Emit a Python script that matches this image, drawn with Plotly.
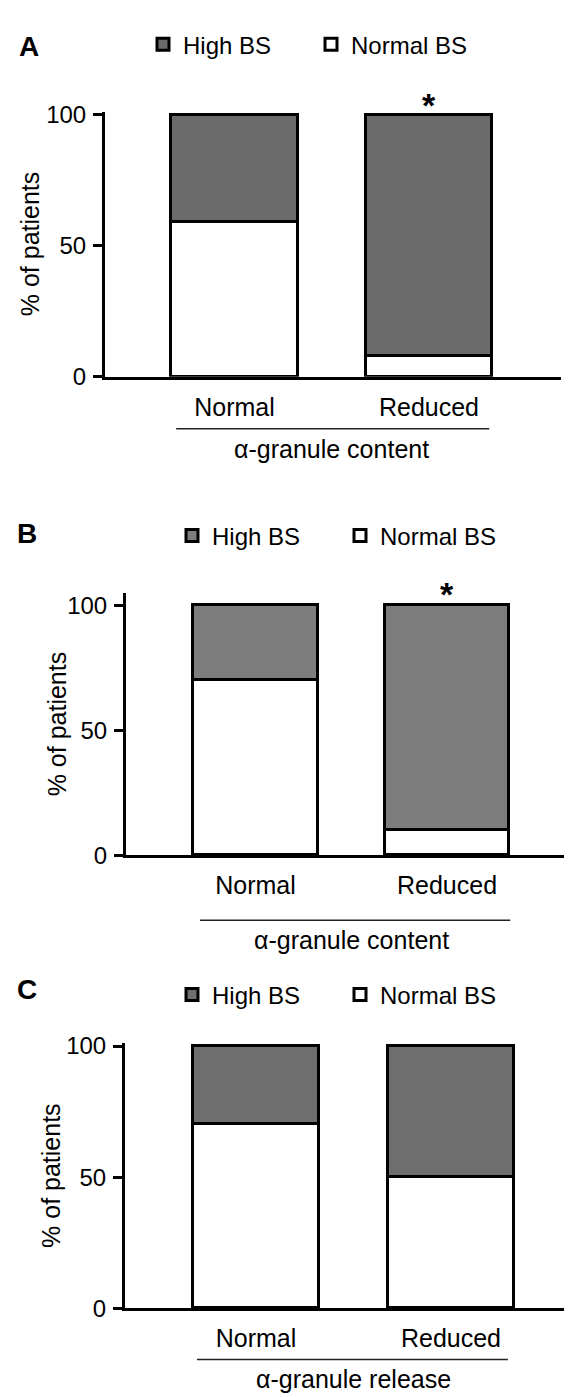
import plotly.graph_objects as go

W, H = 572, 1397
FONT = "Liberation Sans, Arial, Helvetica, sans-serif"

# ---------------- data ----------------
categories = ["Normal", "Reduced"]
series_names = ["High BS", "Normal BS"]
panel_letters = ["A", "B", "C"]
group_titles = ["α-granule content", "α-granule content", "α-granule release"]
y_title = "% of patients"
y_ticks = [0, 50, 100]

normal_bs_A = [59, 8]
high_bs_A = [41, 92]
normal_bs_B = [70, 10]
high_bs_B = [30, 90]
normal_bs_C = [70, 50]
high_bs_C = [30, 50]

signif_A = ["", "*"]
signif_B = ["", "*"]
signif_C = ["", ""]

# ---------------- layout geometry (pixels) ----------------
panels = [
    dict(normal=normal_bs_A, high=high_bs_A, sig=signif_A, gray="#6b6b6b",
         left=97, right=553, y0=364, y100=97, ymax=101, xr=[-0.666, 1.679],
         letter=(21, 28), legend=(152, 26), ytitle_x=22,
         grp=(-0.30, 1.31), grp_y=417, grp_title_y=438, star_y=87),
    dict(normal=normal_bs_B, high=high_bs_B, sig=signif_B, gray="#7d7d7d",
         left=118, right=567, y0=851, y100=597, ymax=105, xr=[-0.676, 1.668],
         letter=(19, 524), legend=(181, 526), ytitle_x=49,
         grp=(-0.29, 1.33), grp_y=917, grp_title_y=937, star_y=585),
    dict(normal=normal_bs_C, high=high_bs_C, sig=signif_C, gray="#6e6e6e",
         left=117, right=572, y0=1312, y100=1045, ymax=101, xr=[-0.672, 1.662],
         letter=(19, 987), legend=(181, 993), ytitle_x=43,
         grp=(-0.303, 1.292), grp_y=1364, grp_title_y=1384, star_y=1030),
]

BAR_W = 0.65


def py(p):
    return 1 - p / H


def px(p):
    return p / W


fig = go.Figure()
annotations = []
shapes = []

for i, p in enumerate(panels):
    k = "" if i == 0 else str(i + 1)
    xa, ya = "x" + k, "y" + k
    leg = "legend" + k
    ppu = (p["y0"] - p["y100"]) / 100.0
    top_px = p["y0"] - p["ymax"] * ppu

    fig.add_trace(go.Bar(
        x=categories, y=p["normal"], name=series_names[1], xaxis=xa, yaxis=ya,
        width=BAR_W, marker=dict(color="#ffffff", line=dict(color="#000000", width=3)),
        legend=leg, legendrank=2, hoverinfo="x+y+name"))
    fig.add_trace(go.Bar(
        x=categories, y=p["high"], name=series_names[0], xaxis=xa, yaxis=ya,
        width=BAR_W, marker=dict(color=p["gray"], line=dict(color="#000000", width=3)),
        legend=leg, legendrank=1, hoverinfo="x+y+name"))

    fig.update_layout({
        "xaxis" + k: dict(
            domain=[px(p["left"]), px(p["right"])], anchor=ya, type="category",
            range=p["xr"], showline=True, linewidth=3, linecolor="#000000",
            ticks="", showgrid=False, zeroline=False, fixedrange=True,
            tickfont=dict(family=FONT, size=25, color="#000000"),
            ticklabelstandoff=6),
        "yaxis" + k: dict(
            domain=[py(p["y0"]), py(top_px)], anchor=xa, range=[0, p["ymax"]],
            tickvals=y_ticks, ticktext=[str(v) for v in y_ticks],
            showline=True, linewidth=3, linecolor="#000000",
            ticks="outside", ticklen=9, tickwidth=3, tickcolor="#000000",
            showgrid=False, zeroline=False, fixedrange=True,
            tickfont=dict(family=FONT, size=24, color="#000000"),
            ticklabelstandoff=2),
        leg: dict(
            orientation="h", x=px(p["legend"][0] - 17), xanchor="left",
            y=py(p["legend"][1]), yanchor="middle", traceorder="normal",
            entrywidth=123, entrywidthmode="pixels",
            font=dict(family=FONT, size=24, color="#000000"),
            bgcolor="rgba(0,0,0,0)", borderwidth=0, itemclick=False,
            itemdoubleclick=False),
    })

    # panel letter
    annotations.append(dict(
        text="<b>%s</b>" % panel_letters[i], xref="paper", yref="paper",
        x=px(p["letter"][0]), y=py(p["letter"][1]), xanchor="center",
        yanchor="middle", showarrow=False,
        font=dict(family=FONT, size=28, color="#000000")))
    # y title
    annotations.append(dict(
        text=y_title, xref="paper", yref="paper", x=px(p["ytitle_x"]),
        y=py((p["y0"] + top_px) / 2), textangle=-90, xanchor="center",
        yanchor="middle", showarrow=False,
        font=dict(family=FONT, size=25, color="#000000")))
    # significance marks
    for j, s in enumerate(p["sig"]):
        if s:
            annotations.append(dict(
                text="<b>%s</b>" % s, xref=xa, yref="paper", x=categories[j],
                y=py(p["star_y"]), xanchor="center", yanchor="middle",
                showarrow=False, font=dict(family=FONT, size=34, color="#000000")))
    # group line and title
    shapes.append(dict(
        type="line", xref=xa, yref="paper", x0=p["grp"][0], x1=p["grp"][1],
        y0=py(p["grp_y"]), y1=py(p["grp_y"]),
        line=dict(color="#222222", width=1.5)))
    annotations.append(dict(
        text=group_titles[i], xref=xa, yref="paper", x=0.5,
        y=py(p["grp_title_y"]), xanchor="center", yanchor="middle",
        showarrow=False, font=dict(family=FONT, size=25, color="#000000")))

fig.update_layout(
    width=W, height=H, margin=dict(l=0, r=0, t=0, b=0),
    barmode="stack", bargap=0, paper_bgcolor="#ffffff", plot_bgcolor="#ffffff",
    font=dict(family=FONT, size=24, color="#000000"),
    annotations=annotations, shapes=shapes, showlegend=True,
)

fig.write_html("out.html", config=dict(displayModeBar=False))
